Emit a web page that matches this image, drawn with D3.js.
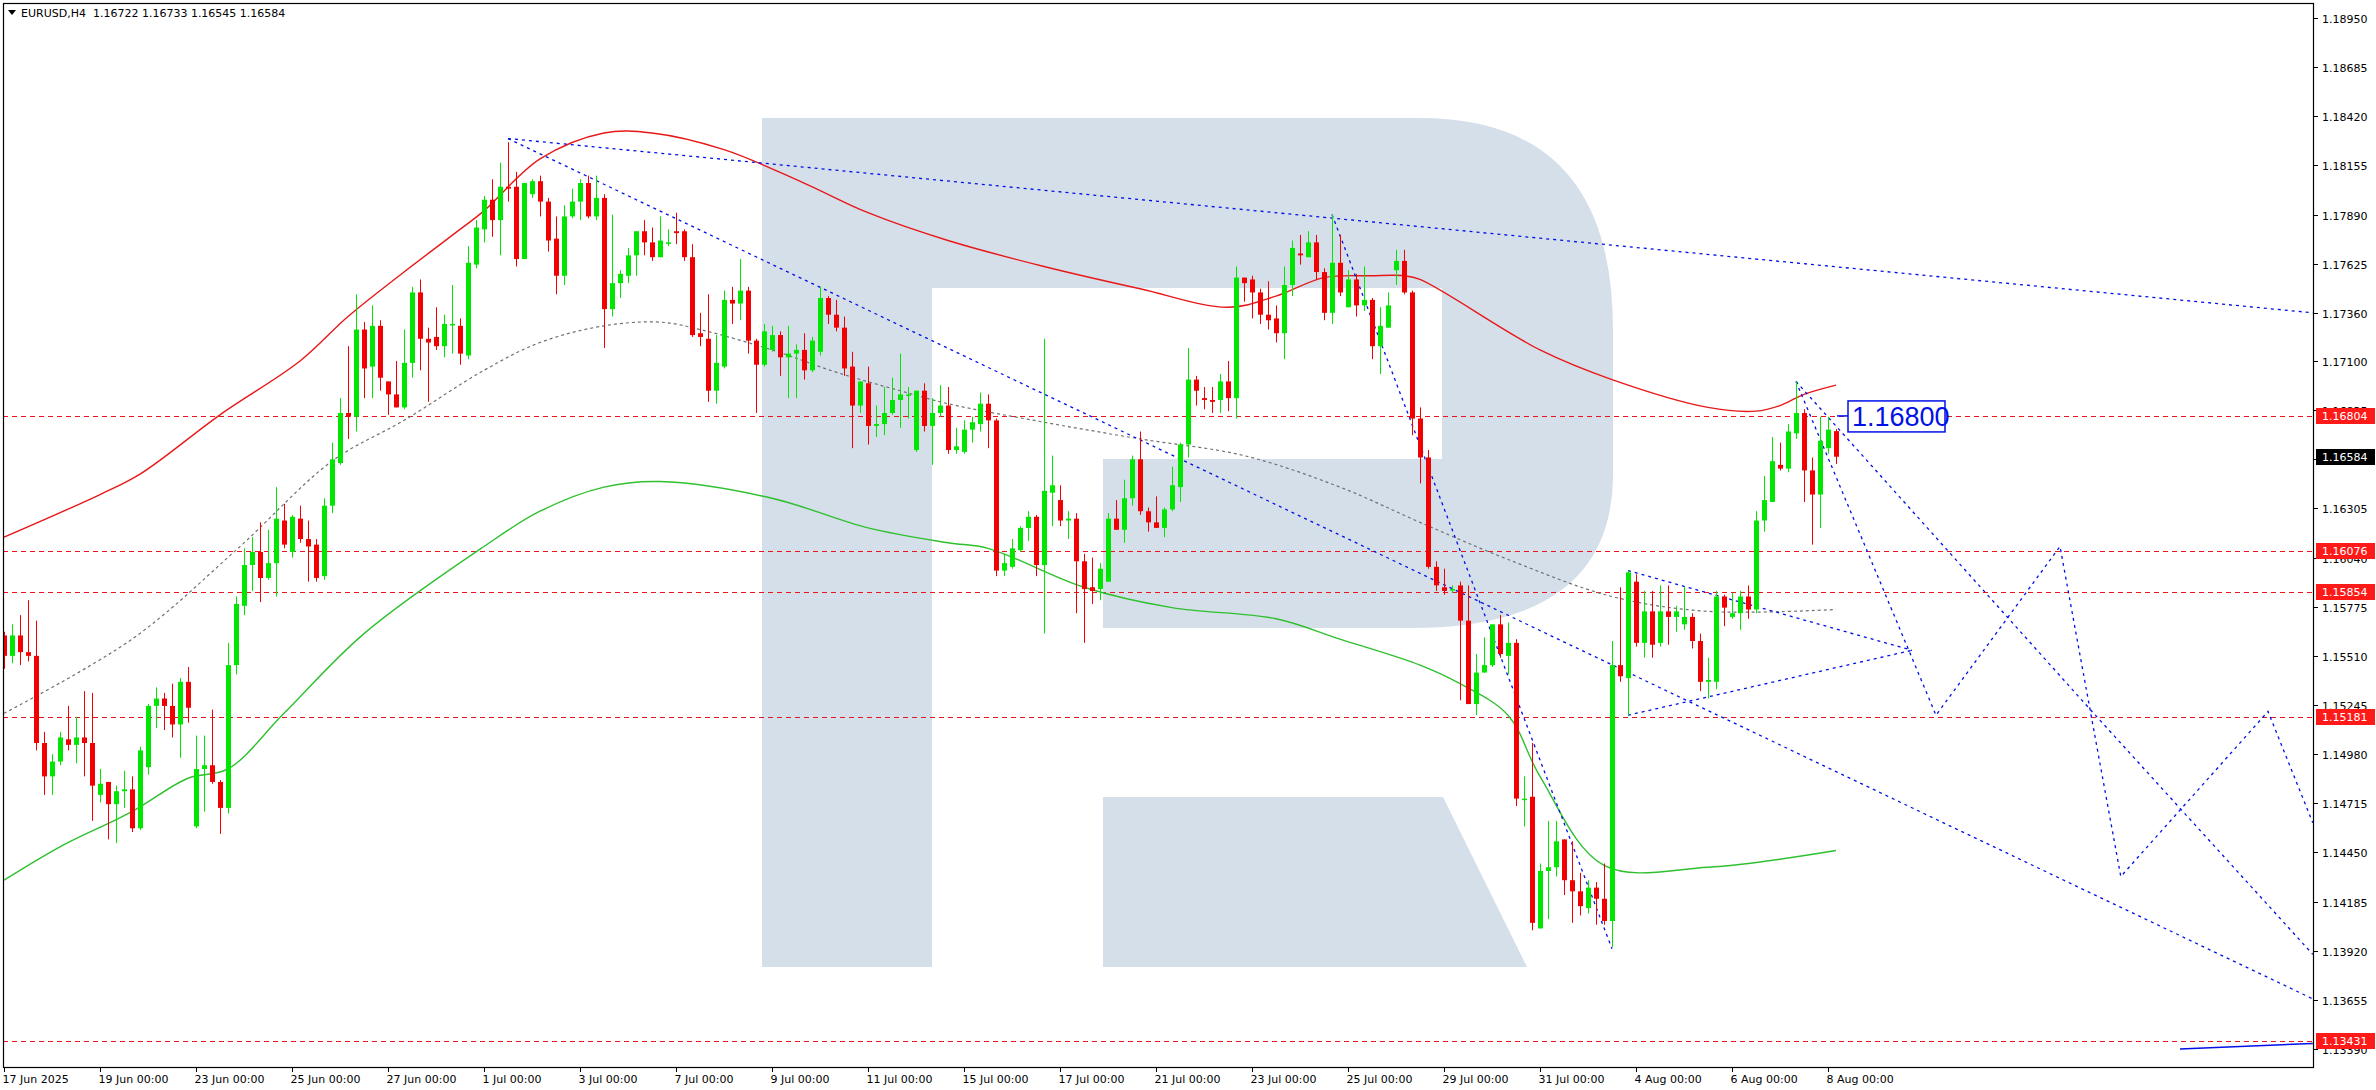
<!DOCTYPE html>
<html><head><meta charset="utf-8">
<script src="https://cdn.jsdelivr.net/npm/d3@7/dist/d3.min.js"></script>
<style>body{margin:0;background:#fff;overflow:hidden}svg{display:block}</style>
</head><body>
<svg id="c" width="2376" height="1090"></svg>
<script>
// ---------- DATA ----------
const title = "EURUSD,H4  1.16722 1.16733 1.16545 1.16584";
// [open, high, low, close] per H4 bar starting 17 Jun 2025 00:00
const candles = [
[1.1562,1.1564,1.1544,1.1551],[1.1551,1.1568,1.1547,1.1562],[1.1562,1.1573,1.1546,1.1553],[1.1553,1.1581,1.1548,1.1551],
[1.1551,1.1570,1.1500,1.1504],[1.1504,1.1510,1.1476,1.1486],[1.1486,1.1498,1.1476,1.1494],[1.1494,1.1510,1.1492,1.1507],
[1.1506,1.1524,1.1500,1.1503],[1.1503,1.1518,1.1493,1.1507],[1.1507,1.1532,1.1486,1.1504],[1.1504,1.1531,1.1462,1.1481],
[1.1476,1.1490,1.1472,1.1482],[1.1483,1.1483,1.1452,1.1471],[1.1471,1.1481,1.1450,1.1478],[1.1478,1.1489,1.1469,1.1479],
[1.1479,1.1486,1.1456,1.1458],[1.1458,1.1502,1.1457,1.1500],[1.1491,1.1525,1.1487,1.1524],[1.1524,1.1534,1.1512,1.1528],
[1.1528,1.1531,1.1511,1.1524],[1.1524,1.1536,1.1507,1.1514],[1.1514,1.1539,1.1496,1.1537],[1.1537,1.1545,1.1515,1.1523],
[1.1459,1.1508,1.1458,1.1490],[1.1490,1.1508,1.1467,1.1492],[1.1492,1.1522,1.1482,1.1483],[1.1483,1.1484,1.1455,1.1469],
[1.1469,1.1558,1.1466,1.1546],[1.1546,1.1583,1.1541,1.1579],[1.1578,1.1609,1.1573,1.1600],[1.1600,1.1615,1.1586,1.1607],
[1.1607,1.1623,1.1580,1.1593],[1.1593,1.1619,1.1592,1.1601],[1.1601,1.1642,1.1583,1.1625],[1.1624,1.1633,1.1609,1.1611],
[1.1607,1.1627,1.1604,1.1626],[1.1625,1.1632,1.1612,1.1614],[1.1614,1.1624,1.1591,1.1610],[1.1611,1.1614,1.1591,1.1593],
[1.1594,1.1636,1.1592,1.1632],[1.1632,1.1666,1.1628,1.1657],[1.1655,1.1690,1.1654,1.1682],[1.1682,1.1718,1.1668,1.1680],
[1.1680,1.1746,1.1672,1.1727],[1.1727,1.1731,1.1690,1.1706],[1.1707,1.1740,1.1690,1.1729],[1.1729,1.1732,1.1694,1.1701],
[1.1699,1.1699,1.1681,1.1692],[1.1692,1.1710,1.1685,1.1685],[1.1685,1.1727,1.1684,1.1709],[1.1709,1.1750,1.1701,1.1747],
[1.1747,1.1754,1.1705,1.1722],[1.1722,1.1728,1.1688,1.1720],[1.1723,1.1739,1.1716,1.1718],[1.1718,1.1735,1.1712,1.1730],
[1.1730,1.1751,1.1714,1.1730],[1.1729,1.1733,1.1708,1.1714],[1.1713,1.1772,1.1711,1.1763],[1.1762,1.1786,1.1760,1.1782],
[1.1781,1.1799,1.1774,1.1797],[1.1797,1.1808,1.1777,1.1786],[1.1786,1.1817,1.1767,1.1804],[1.1804,1.1828,1.1796,1.1803],
[1.1804,1.1812,1.1761,1.1765],[1.1765,1.1806,1.1765,1.1806],[1.1800,1.1808,1.1798,1.1807],[1.1807,1.1810,1.1788,1.1796],
[1.1796,1.1798,1.1769,1.1775],[1.1776,1.1788,1.1746,1.1756],[1.1756,1.1794,1.1751,1.1788],[1.1788,1.1803,1.1787,1.1796],
[1.1796,1.1808,1.1786,1.1806],[1.1806,1.1810,1.1787,1.1788],[1.1788,1.1810,1.1786,1.1798],[1.1798,1.1800,1.1717,1.1738],
[1.1738,1.1789,1.1734,1.1752],[1.1752,1.1759,1.1744,1.1757],[1.1756,1.1771,1.1752,1.1767],[1.1767,1.1780,1.1756,1.1780],
[1.1780,1.1786,1.1767,1.1774],[1.1774,1.1782,1.1764,1.1766],[1.1766,1.1788,1.1766,1.1775],[1.1774,1.1781,1.1772,1.1774],
[1.1780,1.1790,1.1773,1.1779],[1.1780,1.1781,1.1764,1.1766],[1.1766,1.1773,1.1723,1.1724],[1.1725,1.1736,1.1718,1.1723],
[1.1722,1.1746,1.1688,1.1694],[1.1694,1.1724,1.1687,1.1709],[1.1707,1.1748,1.1706,1.1743],[1.1743,1.1750,1.1730,1.1741],
[1.1741,1.1765,1.1732,1.1748],[1.1748,1.1750,1.1714,1.1721],[1.1721,1.1722,1.1682,1.1708],[1.1708,1.1730,1.1707,1.1726],
[1.1716,1.1729,1.1715,1.1724],[1.1724,1.1726,1.1702,1.1712],[1.1712,1.1729,1.1690,1.1714],[1.1714,1.1719,1.1690,1.1716],
[1.1716,1.1725,1.1700,1.1705],[1.1705,1.1723,1.1704,1.1721],[1.1715,1.1750,1.1713,1.1744],[1.1744,1.1745,1.1730,1.1735],
[1.1735,1.1743,1.1726,1.1728],[1.1728,1.1734,1.1702,1.1706],[1.1707,1.1715,1.1663,1.1686],[1.1686,1.1699,1.1682,1.1699],
[1.1698,1.1707,1.1665,1.1675],[1.1675,1.1686,1.1669,1.1676],[1.1676,1.1696,1.1670,1.1682],[1.1682,1.1701,1.1681,1.1689],
[1.1689,1.1714,1.1674,1.1692],[1.1692,1.1696,1.1679,1.1692],[1.1662,1.1694,1.1661,1.1694],[1.1694,1.1698,1.1672,1.1675],
[1.1675,1.1690,1.1654,1.1682],[1.1682,1.1697,1.1680,1.1686],[1.1686,1.1696,1.1660,1.1662],[1.1662,1.1674,1.1660,1.1664],
[1.1661,1.1678,1.1660,1.1673],[1.1673,1.1680,1.1666,1.1677],[1.1676,1.1693,1.1672,1.1687],[1.1687,1.1692,1.1663,1.1678],
[1.1678,1.1679,1.1594,1.1597],[1.1597,1.1606,1.1594,1.1601],[1.1599,1.1614,1.1598,1.1609],[1.1608,1.1621,1.1607,1.1620],
[1.1620,1.1629,1.1613,1.1626],[1.1626,1.1627,1.1594,1.1600],[1.1600,1.1722,1.1563,1.1640],[1.1639,1.1659,1.1621,1.1643],
[1.1635,1.1643,1.1621,1.1624],[1.1624,1.1629,1.1614,1.1625],[1.1625,1.1628,1.1574,1.1602],[1.1602,1.1606,1.1558,1.1587],
[1.1588,1.1604,1.1579,1.1586],[1.1587,1.1601,1.1581,1.1598],[1.1591,1.1628,1.1591,1.1625],[1.1625,1.1635,1.1619,1.1619],
[1.1619,1.1646,1.1612,1.1636],[1.1636,1.1659,1.1632,1.1657],[1.1657,1.1672,1.1627,1.1629],[1.1629,1.1631,1.1618,1.1623],
[1.1623,1.1637,1.1620,1.1620],[1.1620,1.1631,1.1615,1.1630],[1.1630,1.1653,1.1629,1.1643],[1.1642,1.1666,1.1634,1.1665],
[1.1665,1.1717,1.1658,1.1700],[1.1700,1.1702,1.1686,1.1694],[1.1690,1.1696,1.1684,1.1689],[1.1689,1.1696,1.1682,1.1688],
[1.1689,1.1703,1.1682,1.1699],[1.1699,1.1710,1.1683,1.1690],[1.1690,1.1761,1.1679,1.1755],[1.1755,1.1755,1.1742,1.1752],
[1.1754,1.1756,1.1733,1.1747],[1.1747,1.1749,1.1730,1.1735],[1.1735,1.1753,1.1727,1.1732],[1.1733,1.1740,1.1720,1.1725],
[1.1725,1.1761,1.1711,1.1751],[1.1751,1.1775,1.1745,1.1771],[1.1768,1.1778,1.1762,1.1767],[1.1766,1.1780,1.1766,1.1774],
[1.1774,1.1778,1.1754,1.1758],[1.1758,1.1760,1.1732,1.1736],[1.1736,1.1789,1.1730,1.1763],[1.1763,1.1778,1.1745,1.1747],
[1.1739,1.1759,1.1739,1.1754],[1.1754,1.1757,1.1734,1.1740],[1.1740,1.1761,1.1737,1.1743],[1.1743,1.1744,1.1711,1.1718],
[1.1718,1.1739,1.1703,1.1729],[1.1728,1.1747,1.1728,1.1740],[1.1759,1.1770,1.1751,1.1764],[1.1764,1.1770,1.1746,1.1747],
[1.1747,1.1748,1.1670,1.1679],[1.1679,1.1685,1.1644,1.1658],[1.1658,1.1662,1.1598,1.1599],[1.1599,1.1602,1.1586,1.1589],
[1.1588,1.1598,1.1584,1.1586],[1.1587,1.1589,1.1585,1.1587],[1.1589,1.1591,1.1527,1.1570],[1.1570,1.1589,1.1525,1.1525],
[1.1525,1.1552,1.1519,1.1542],[1.1542,1.1561,1.1542,1.1546],[1.1546,1.1568,1.1545,1.1568],[1.1568,1.1573,1.1550,1.1552],
[1.1551,1.1569,1.1541,1.1558],[1.1558,1.1560,1.1470,1.1474],[1.1474,1.1486,1.1459,1.1474],[1.1475,1.1504,1.1403,1.1407],
[1.1404,1.1439,1.1404,1.1435],[1.1435,1.1462,1.1409,1.1437],[1.1437,1.1462,1.1432,1.1451],[1.1452,1.1452,1.1422,1.1430],
[1.1430,1.1451,1.1407,1.1424],[1.1424,1.1434,1.1411,1.1416],[1.1415,1.1430,1.1412,1.1426],[1.1426,1.1429,1.1406,1.1420],
[1.1420,1.1439,1.1406,1.1408],[1.1408,1.1559,1.1394,1.1546],[1.1546,1.1588,1.1537,1.1540],[1.1539,1.1597,1.1519,1.1596],
[1.1591,1.1595,1.1556,1.1558],[1.1558,1.1586,1.1550,1.1575],[1.1575,1.1586,1.1550,1.1557],[1.1558,1.1589,1.1556,1.1575],
[1.1575,1.1589,1.1557,1.1572],[1.1572,1.1578,1.1564,1.1575],[1.1568,1.1588,1.1565,1.1572],[1.1572,1.1574,1.1555,1.1559],
[1.1559,1.1563,1.1532,1.1537],[1.1537,1.1550,1.1528,1.1538],[1.1537,1.1586,1.1533,1.1583],[1.1583,1.1584,1.1567,1.1577],
[1.1572,1.1585,1.1571,1.1574],[1.1574,1.1586,1.1565,1.1583],[1.1583,1.1589,1.1571,1.1576],[1.1576,1.1629,1.1574,1.1624],
[1.1624,1.1648,1.1618,1.1635],[1.1634,1.1669,1.1634,1.1656],[1.1654,1.1666,1.1651,1.1652],[1.1652,1.1676,1.1650,1.1672],
[1.1671,1.1699,1.1668,1.1682],[1.1682,1.1684,1.1634,1.1651],[1.1651,1.1658,1.1611,1.1638],[1.1638,1.1680,1.1620,1.1667],
[1.1663,1.1680,1.1660,1.1673],[1.16722,1.16733,1.16545,1.16584]
];
// indicator bands [bar, price]
const upperBand = [[0,1.1615],[12,1.1638],[17,1.1649],[27,1.1681],[37,1.1710],[43,1.1734],[50,1.1758],[57,1.1781],[60,1.1791],[67,1.1819],[75,1.1833],[81,1.1833],[90,1.1824],[100,1.1806],[108,1.1790],[118,1.1775],[130,1.1761],[142,1.1749],[153,1.1739],[159,1.1745],[165,1.1755],[171,1.1756],[175,1.1756],[177,1.1754],[192,1.1716],[201,1.1700],[213,1.1685],[219,1.1683],[222,1.1686],[225,1.1692],[229,1.1697]];
const midBand = [[0,1.1520],[16,1.1560],[29,1.1608],[41,1.1656],[50,1.1678],[60,1.1705],[67,1.1720],[75,1.1729],[82,1.1731],[87,1.1727],[96,1.1716],[104,1.1704],[112,1.1694],[118,1.1687],[130,1.1677],[142,1.1668],[155,1.1659],[167,1.1642],[177,1.1623],[188,1.1603],[201,1.1583],[213,1.1575],[229,1.1576]];
const lowerBand = [[0,1.1430],[7,1.1448],[16,1.1467],[23,1.1485],[28,1.1490],[35,1.1520],[45,1.1563],[60,1.1610],[67,1.1629],[75,1.1642],[82,1.1645],[96,1.1636],[108,1.1620],[118,1.1612],[123,1.1609],[135,1.1588],[146,1.1577],[159,1.1571],[167,1.1560],[177,1.1546],[182,1.1536],[188,1.1519],[192,1.1486],[200,1.1438],[213,1.1437],[229,1.1446]];
// blue dotted drawings [[bar,price],...]
const drawings = [
 [[63,1.1830],[288.6,1.1736]],
 [[63,1.1830],[288.6,1.1366]],
 [[166,1.1789],[201,1.1393]],
 [[203,1.1597],[238.5,1.1554]],
 [[203,1.1519],[238.5,1.1554]],
 [[224,1.1699],[241.5,1.1519],[257,1.1610],[264.6,1.1432],[283,1.1521],[288.6,1.1461]],
 [[224,1.1699],[261,1.1521],[288.6,1.1390]]
];
const solidDrawing = [[272,1.1339],[288.6,1.1342]];
const levels = [1.16804, 1.16076, 1.15854, 1.15181, 1.13431];
const lastPrice = 1.16584;
const targetLabel = {bar:229, price:1.16804, text:"1.16800"};
const priceTicks = [1.18950,1.18685,1.18420,1.18155,1.17890,1.17625,1.17360,1.17100,1.16835,1.16570,1.16305,1.16040,1.15775,1.15510,1.15245,1.14980,1.14715,1.14450,1.14185,1.13920,1.13655,1.13390];
const dateTicks = [[0,"17 Jun 2025"],[12,"19 Jun 00:00"],[24,"23 Jun 00:00"],[36,"25 Jun 00:00"],[48,"27 Jun 00:00"],[60,"1 Jul 00:00"],[72,"3 Jul 00:00"],[84,"7 Jul 00:00"],[96,"9 Jul 00:00"],[108,"11 Jul 00:00"],[120,"15 Jul 00:00"],[132,"17 Jul 00:00"],[144,"21 Jul 00:00"],[156,"23 Jul 00:00"],[168,"25 Jul 00:00"],[180,"29 Jul 00:00"],[192,"31 Jul 00:00"],[204,"4 Aug 00:00"],[216,"6 Aug 00:00"],[228,"8 Aug 00:00"]];

// ---------- CHART ----------
const svg = d3.select("#c");
const L=3, R=2313, T=3, B=1067;
const x = d3.scaleLinear().domain([0,288.625]).range([4,R]);
const y = d3.scaleLinear().domain([1.13298,1.19031]).range([1066,3]);
const FONT = "DejaVu Sans, Tahoma, sans-serif";

const defs = svg.append("defs");
defs.append("clipPath").attr("id","plot").append("rect").attr("x",L).attr("y",T).attr("width",R-L).attr("height",B-T);
const g = svg.append("g").attr("clip-path","url(#plot)");

// watermark logo
g.append("path").attr("fill","#d5dfea")
 .attr("d","M762,118 H1420 Q1613,118 1613,330 V474 Q1613,628 1410,628 H1103 V459 H1442 V288 H932 V967 H762 Z");
g.append("path").attr("fill","#d5dfea").attr("d","M1103,797 H1443 L1527,967 H1103 Z");

// levels
levels.forEach(v=>{
  g.append("line").attr("x1",L).attr("x2",R).attr("y1",Math.round(y(v))+0.5).attr("y2",Math.round(y(v))+0.5)
   .attr("stroke","#e8141e").attr("stroke-width",1.2).attr("stroke-dasharray","5,4");
});

const line = d3.line().x(d=>x(d[0])).y(d=>y(d[1])).curve(d3.curveCatmullRom.alpha(0.5));
g.append("path").datum(upperBand).attr("d",line).attr("fill","none").attr("stroke","#e81818").attr("stroke-width",1.4);
g.append("path").datum(midBand).attr("d",line).attr("fill","none").attr("stroke","#707070").attr("stroke-width",1.2).attr("stroke-dasharray","3,3");
g.append("path").datum(lowerBand).attr("d",line).attr("fill","none").attr("stroke","#2ec02e").attr("stroke-width",1.4);

// drawings
const lin = d3.line().x(d=>x(d[0])).y(d=>y(d[1]));
drawings.forEach(dr=>{
  g.append("path").datum(dr).attr("d",lin).attr("fill","none").attr("stroke","#0010e8").attr("stroke-width",1.3).attr("stroke-dasharray","3,4");
});
g.append("path").datum(solidDrawing).attr("d",lin).attr("fill","none").attr("stroke","#0010e8").attr("stroke-width",1.5);

// candles
const cg = g.append("g");
candles.forEach((c,i)=>{
  const [o,h,l,cl]=c; const up = cl>=o;
  const col = up ? "#00e600" : "#f00000";
  const cx = Math.round(x(i))+0.5;
  cg.append("line").attr("x1",cx).attr("x2",cx).attr("y1",y(h)).attr("y2",y(l)).attr("stroke",col).attr("stroke-width",1);
  const top=y(Math.max(o,cl)), bot=y(Math.min(o,cl));
  cg.append("rect").attr("x",cx-2.5).attr("width",5).attr("y",top).attr("height",Math.max(1.5,bot-top)).attr("fill",col);
});

// target label
const ty = y(targetLabel.price);
const tx = x(targetLabel.bar)+1;
svg.append("line").attr("x1",tx).attr("x2",tx+11).attr("y1",ty).attr("y2",ty).attr("stroke","#0010e8").attr("stroke-width",1.5);
svg.append("rect").attr("x",tx+11).attr("y",ty-15).attr("width",97).attr("height",31).attr("fill","#fff").attr("stroke","#0010e8").attr("stroke-width",1.5);
svg.append("text").attr("x",tx+15).attr("y",ty+10).attr("font-family","Liberation Sans, Arial, sans-serif").attr("font-size",27).attr("fill","#0010e8").text(targetLabel.text);

// frame
svg.append("rect").attr("x",L+0.5).attr("y",T+0.5).attr("width",R-L).attr("height",B-T).attr("fill","none").attr("stroke","#000").attr("stroke-width",1.2);

// price axis
priceTicks.forEach(v=>{
  const yy=Math.round(y(v))+0.5;
  svg.append("line").attr("x1",R).attr("x2",R+5).attr("y1",yy).attr("y2",yy).attr("stroke","#000");
  svg.append("text").attr("x",R+9).attr("y",yy+4).attr("font-family",FONT).attr("font-size",11).attr("fill","#000").text(v.toFixed(5));
});
const tag=(v,bg)=>{
  const yy=Math.round(y(v));
  svg.append("rect").attr("x",R+3).attr("y",yy-8).attr("width",59).attr("height",16).attr("fill",bg);
  svg.append("text").attr("x",R+9).attr("y",yy+4).attr("font-family",FONT).attr("font-size",11).attr("fill","#fff").text(v.toFixed(5));
};
levels.forEach(v=>tag(v,"#ff1a1a"));
tag(lastPrice,"#000");

// time axis
dateTicks.forEach(([b,t])=>{
  const xx=Math.round(x(b))+0.5;
  svg.append("line").attr("x1",xx).attr("x2",xx).attr("y1",B).attr("y2",B+5).attr("stroke","#000");
  svg.append("text").attr("x",xx-2).attr("y",B+16).attr("font-family",FONT).attr("font-size",11).attr("fill","#000").text(t);
});

// title
svg.append("path").attr("d","M8,10 L16,10 L12,15 Z").attr("fill","#000");
svg.append("text").attr("x",21).attr("y",17).attr("font-family",FONT).attr("font-size",11).attr("fill","#000").attr("xml:space","preserve").style("white-space","pre").text(title);
</script>
</body></html>
